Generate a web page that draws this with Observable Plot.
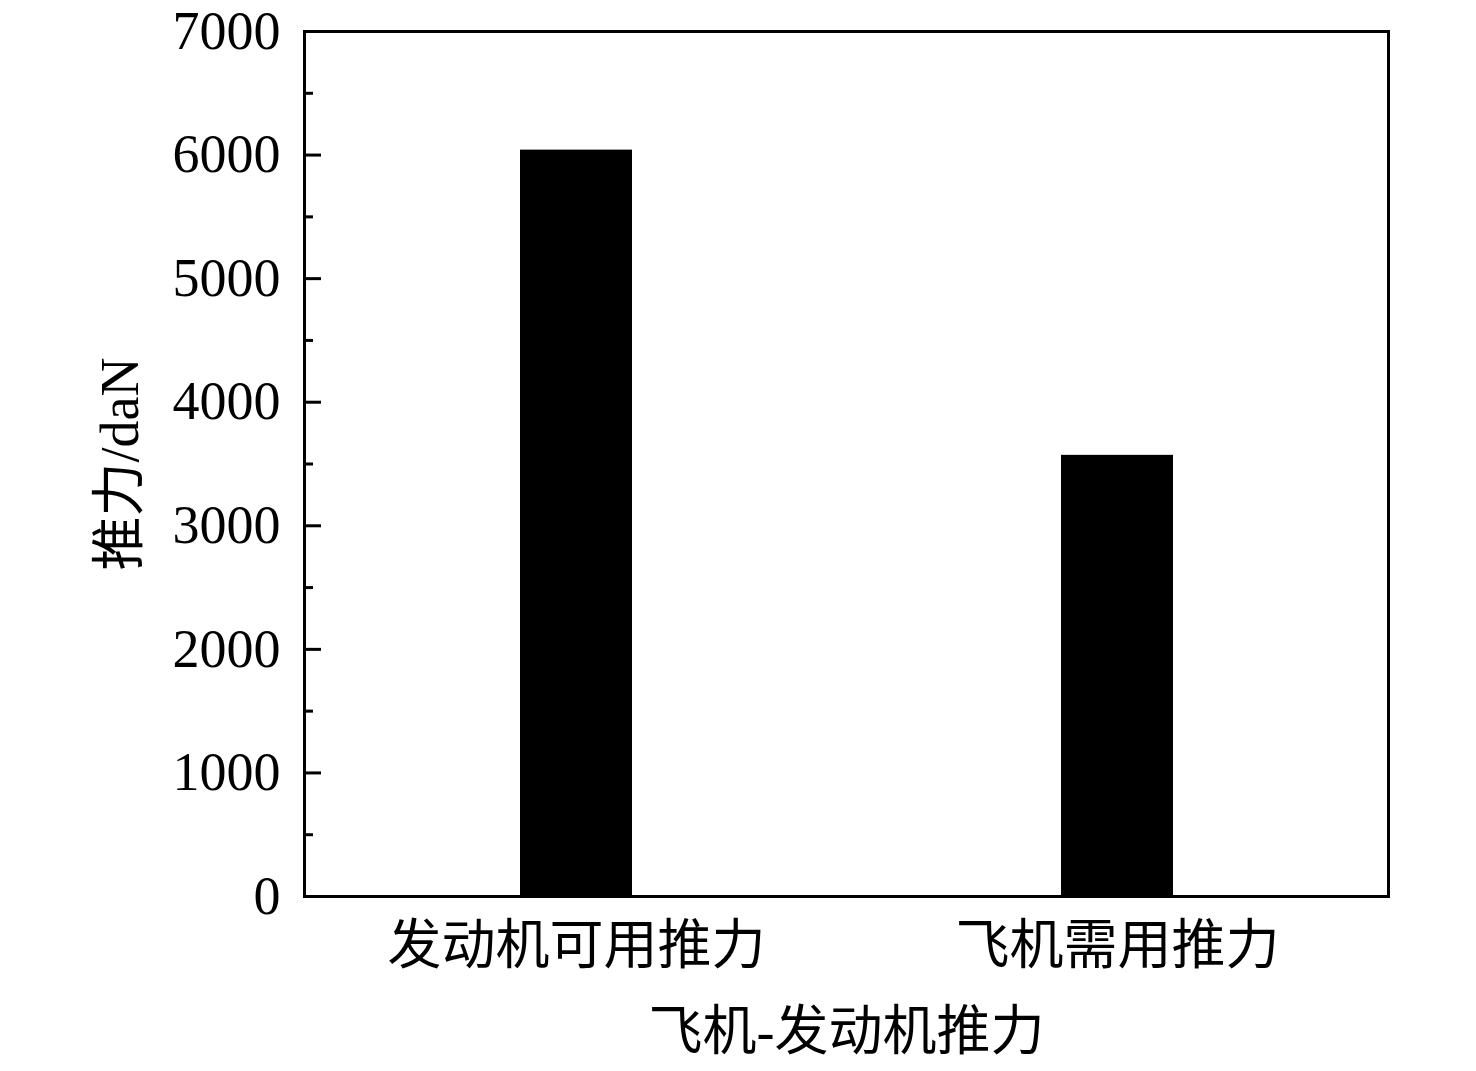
<!DOCTYPE html>
<html>
<head>
<meta charset="utf-8">
<script src="https://cdn.jsdelivr.net/npm/d3@7"></script>
<script src="https://cdn.jsdelivr.net/npm/@observablehq/plot@0.6"></script>
<style>
  html, body { margin: 0; padding: 0; background: #fff; }
  #chart svg { font-family: "Liberation Serif", "Noto Sans CJK SC", serif; }
</style>
</head>
<body>
<div id="chart"></div>
<script>
const categories = ["发动机可用推力", "飞机需用推力"];
const thrust = [6040, 3570];
const majorTicks = [0, 1000, 2000, 3000, 4000, 5000, 6000, 7000];
const minorTicks = [500, 1500, 2500, 3500, 4500, 5500, 6500];
const yLabel = "推力/daN";
const xLabel = "飞机-发动机推力";

const data = categories.map((c, i) => ({category: c, value: thrust[i]}));

const chart = Plot.plot({
  width: 1476,
  height: 1071,
  marginLeft: 304,
  marginRight: 88,
  marginTop: 31,
  marginBottom: 175,
  style: {fontFamily: '"Liberation Serif", "Noto Sans CJK SC", serif', fontSize: "54px", color: "#000", background: "#fff"},
  x: {domain: categories, paddingInner: 0.793, paddingOuter: 0.3967},
  y: {domain: [0, 7000]},
  marks: [
    Plot.barY(data, {x: "category", y: "value", fill: "#000"}),
    Plot.axisY(majorTicks, {anchor: "left", tickSize: 0, tickPadding: 24, label: null, fontSize: 54, tickFormat: d => String(d)}),
    Plot.axisY(majorTicks, {anchor: "right", frameAnchor: "left", tickSize: 16, strokeWidth: 3, text: null, label: null}),
    Plot.axisY(minorTicks, {anchor: "right", frameAnchor: "left", tickSize: 8, strokeWidth: 3, text: null, label: null}),
    Plot.axisY({anchor: "left", ticks: [], tickSize: 0, label: yLabel, labelAnchor: "center", labelArrow: "none", labelOffset: 205, fontSize: 54}),
    Plot.axisX({anchor: "bottom", tickSize: 0, tickPadding: 29, label: xLabel, labelAnchor: "center", labelArrow: "none", labelOffset: 153, fontSize: 54}),
    Plot.frame({stroke: "#000", strokeWidth: 3})
  ]
});
document.getElementById("chart").appendChild(chart);
</script>
</body>
</html>
